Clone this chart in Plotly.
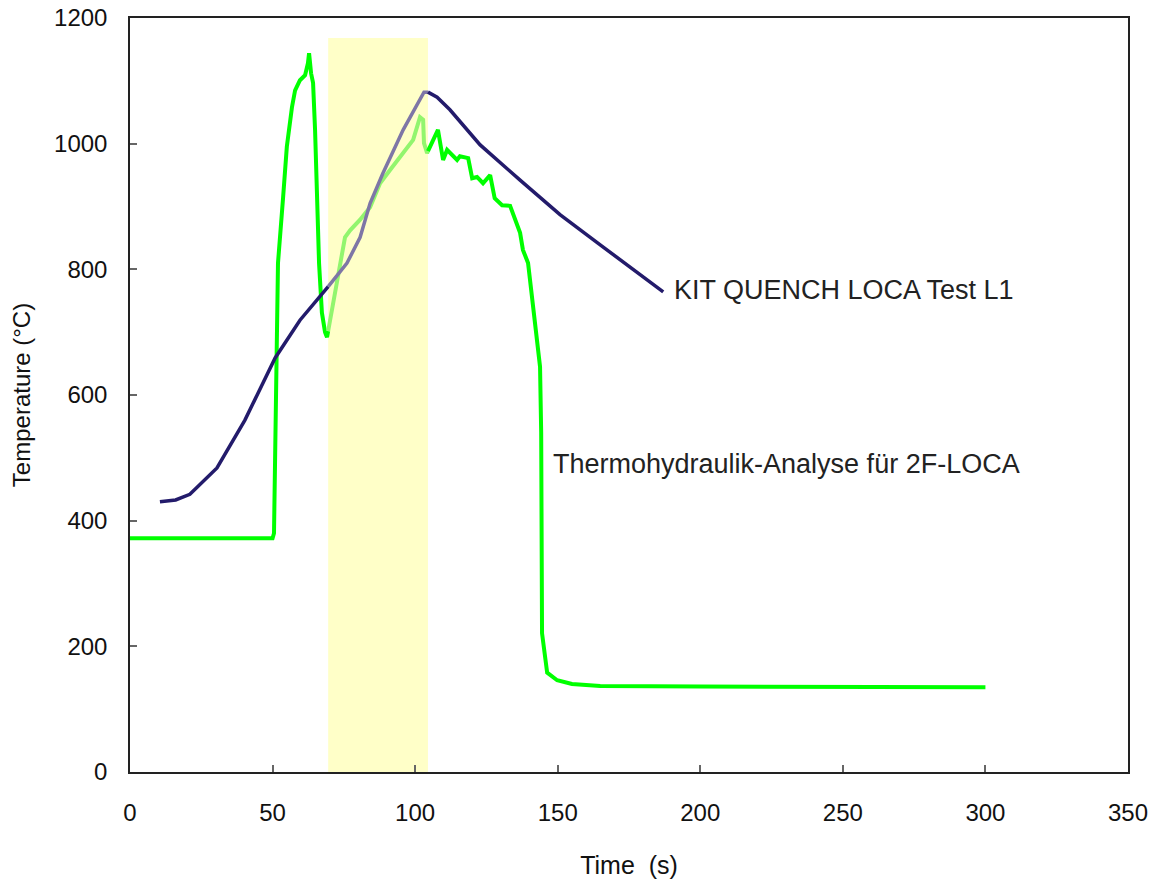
import plotly.graph_objects as go

# ---- data ----
kit_time = [10.5, 16, 21, 30.5, 40.3, 50.9, 59.6, 69.4, 76.1, 80.7, 84.2, 88.7, 95.8,
            103.1, 104.5, 107.7, 112.2, 122.8, 136.8, 150.8, 164.9, 187]
kit_temp = [430, 433, 442, 484, 560, 659, 719, 772, 810, 851, 905, 953, 1022,
            1082, 1082, 1074, 1054, 998, 942, 887, 839, 764]

th_time = [0, 50, 50.5, 51.9, 53.7, 55, 56.8, 57.9, 59.6, 61.4, 62.4, 62.8, 63.5, 64.2,
           64.9, 65.6, 66.3, 67.3, 68.4, 69.1, 70.2, 72.6, 75.4, 77.2, 80.7, 84.2, 87.7,
           91.2, 95.8, 99.3, 101.7, 102.8, 103.1, 104.2, 105.2, 108, 109.8, 111.2, 114.7,
           115.7, 118.6, 120, 121.7, 123.8, 126.3, 127.9, 130.5, 133.3, 136.8, 137.8,
           139.6, 141, 142.8, 143.8, 144.2, 144.5, 146.3, 149.8, 155, 164.9, 200, 250, 300]
th_temp = [372, 372, 380, 810, 915, 995, 1058, 1085, 1101, 1109, 1128, 1144, 1112, 1097,
           1022, 915, 810, 731, 700, 692, 719, 783, 851, 862, 879, 899, 937,
           958, 985, 1006, 1042, 1038, 1001, 985, 995, 1022, 974, 990, 974,
           980, 977, 945, 947, 937, 950, 913, 902, 901, 858, 831,
           810, 751, 688, 645, 540, 221, 158, 146, 140, 137, 136, 135, 135]

shade_start, shade_end, shade_top = 69.5, 104.5, 1168

label_kit = "KIT QUENCH LOCA Test L1"
label_th = "Thermohydraulik-Analyse für 2F-LOCA"


def split(xs, ys, a, b):
    """split a series into before / inside / after the shaded interval (with shared boundary points)"""
    def interp(x):
        for i in range(len(xs) - 1):
            if xs[i] <= x <= xs[i + 1]:
                if xs[i + 1] == xs[i]:
                    return ys[i + 1]
                t = (x - xs[i]) / (xs[i + 1] - xs[i])
                return ys[i] + t * (ys[i + 1] - ys[i])
        return None
    ya, yb = interp(a), interp(b)
    pre = [(x, y) for x, y in zip(xs, ys) if x < a]
    mid = [(x, y) for x, y in zip(xs, ys) if a < x < b]
    post = [(x, y) for x, y in zip(xs, ys) if x > b]
    if ya is not None:
        pre.append((a, ya)); mid.insert(0, (a, ya))
    if yb is not None:
        mid.append((b, yb)); post.insert(0, (b, yb))
    return pre, mid, post


fig = go.Figure()

fig.add_shape(type="rect", x0=shade_start, x1=shade_end, y0=0, y1=shade_top,
              fillcolor="#FFFFC8", line_width=0, layer="below")

for xs, ys, col, col_in, w in [
    (th_time, th_temp, "#00FF00", "#92F56E", 4),
    (kit_time, kit_temp, "#231B6B", "#7E76A6", 3.5),
]:
    pre, mid, post = split(xs, ys, shade_start, shade_end)
    for seg, c in [(pre, col), (mid, col_in), (post, col)]:
        if len(seg) < 2:
            continue
        fig.add_trace(go.Scatter(x=[p[0] for p in seg], y=[p[1] for p in seg], mode="lines",
                                 line=dict(color=c, width=w), showlegend=False,
                                 hoverinfo="skip"))

fig.add_annotation(x=190.1, y=767, text=label_kit, showarrow=False, xanchor="left",
                   yanchor="middle", font=dict(size=27, color="#222222"))
fig.add_annotation(x=147.7, y=490, text=label_th, showarrow=False, xanchor="left",
                   yanchor="middle", font=dict(size=27, color="#222222"))

fig.update_layout(
    width=1158, height=881,
    margin=dict(l=130, r=30, t=18, b=109),
    paper_bgcolor="white", plot_bgcolor="white",
    font=dict(family="Liberation Sans, Arial, sans-serif", size=24, color="#111111"),
    showlegend=False,
)
fig.update_xaxes(range=[0, 350], dtick=50, tick0=0, showgrid=False, zeroline=False,
                 showline=True, linecolor="#222222", linewidth=1.5, mirror=True,
                 ticks="inside", ticklen=7, tickcolor="#666666", tickwidth=1.5,
                 ticklabelstandoff=18, automargin=False,
                 title=dict(text="Time  (s)", font=dict(size=25), standoff=32))
fig.update_yaxes(range=[0, 1200], dtick=200, tick0=0, showgrid=False, zeroline=False,
                 showline=True, linecolor="#222222", linewidth=1.5, mirror=True,
                 ticks="inside", ticklen=7, tickcolor="#666666", tickwidth=1.5,
                 ticklabelstandoff=16, automargin=False,
                 title=dict(text="Temperature (°C)", font=dict(size=24), standoff=17))

fig.write_html("out.html")
